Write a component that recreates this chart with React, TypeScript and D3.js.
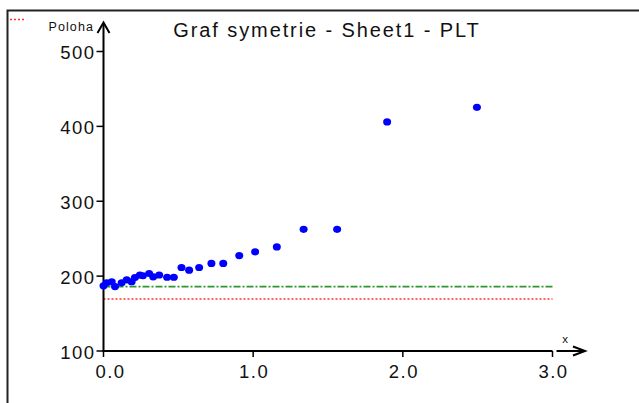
import React from "react";
import * as d3 from "d3";

// Measured samples: x position and Poloha value
const sampleX = [0.0, 0.021, 0.055, 0.077, 0.121, 0.155, 0.188, 0.21, 0.243, 0.263, 0.305, 0.332, 0.372, 0.425, 0.47, 0.521, 0.572, 0.639, 0.721, 0.8, 0.907, 1.013, 1.158, 1.337, 1.561, 1.895, 2.495];
const sampleY = [187, 191, 192.5, 186, 191, 195, 192.5, 198, 201.5, 200.5, 203.5, 199, 201.5, 198.5, 198.5, 211.5, 208, 211.5, 217, 217, 227.5, 232.5, 239, 262.5, 262.5, 406, 425.5];

// Horizontal reference levels
const greenLevel = 186;
const redLevel = 169.5;

const xTicks = [0, 1, 2, 3];
const yTicks = [100, 200, 300, 400, 500];

const title = "Graf symetrie - Sheet1 - PLT";
const yLabel = "Poloha";
const xLabel = "x";

const W = 639;
const H = 403;
const FONT = "'Liberation Sans', Arial, sans-serif";

export default function App() {
  const x = d3.scaleLinear().domain([0, 3]).range([103.5, 552.5]);
  const y = d3.scaleLinear().domain([100, 500]).range([351, 51.5]);
  const x0 = x(0);
  const y0 = y(100);

  return (
    <svg
      width={W}
      height={H}
      style={{ position: "absolute", left: 0, top: 0, background: "#fff" }}
      fontFamily={FONT}
    >
      {/* frame */}
      <path d={`M7.5,${H} V10.5 H${W}`} fill="none" stroke="#222" strokeWidth={2} />
      {/* legend marker */}
      <line x1={10} x2={24} y1={19.5} y2={19.5} stroke="#ff3030" strokeWidth={1.5} strokeDasharray="2,2" />

      <text x={327} y={37} textAnchor="middle" fontSize={20} fill="#111" letterSpacing={1.9}>
        {title}
      </text>

      {/* reference lines */}
      <line x1={x0} x2={x(3)} y1={y(greenLevel)} y2={y(greenLevel)} stroke="#2e962e" strokeWidth={1.6} strokeDasharray="7,2,2,2" />
      <line x1={x0} x2={x(3)} y1={y(redLevel)} y2={y(redLevel)} stroke="#ff3030" strokeWidth={1.6} strokeDasharray="2,2" />

      {/* y axis with arrow */}
      <line x1={x0} x2={x0} y1={y0} y2={23} stroke="#000" strokeWidth={2} />
      <path d={`M${x0 - 6},${33} L${x0},${22.5} L${x0 + 6},${33}`} fill="none" stroke="#000" strokeWidth={2} />
      {yTicks.map((t) => (
        <g key={t}>
          <line x1={x0 - 7} x2={x0} y1={y(t)} y2={y(t)} stroke="#000" strokeWidth={1.5} />
          <text x={x0 - 8} y={y(t) + 7.5} textAnchor="end" fontSize={18.5} fill="#111" letterSpacing={1.5}>
            {t}
          </text>
        </g>
      ))}
      <text x={94} y={31} textAnchor="end" fontSize={12.5} fill="#111" letterSpacing={1.1}>
        {yLabel}
      </text>

      {/* x axis with arrow */}
      <line x1={x0 - 1} x2={x(3)} y1={y0} y2={y0} stroke="#000" strokeWidth={2} />
      <line x1={x(3) + 4} x2={585} y1={y0} y2={y0} stroke="#000" strokeWidth={2} />
      <path d={`M573,${y0 - 4.5} L585,${y0} L573,${y0 + 4.5}`} fill="none" stroke="#000" strokeWidth={2} />
      {xTicks.map((t) => (
        <g key={t}>
          <line x1={x(t)} x2={x(t)} y1={y0} y2={y0 + 6} stroke="#000" strokeWidth={1.5} />
          <text x={x(t) + (t === 0 ? 7 : 1)} y={378} textAnchor="middle" fontSize={18.5} fill="#111" letterSpacing={1.5}>
            {t.toFixed(1)}
          </text>
        </g>
      ))}
      <text x={565} y={343} textAnchor="middle" fontSize={11.5} fill="#111">
        {xLabel}
      </text>

      {/* samples */}
      {sampleX.map((v, i) => (
        <ellipse key={i} cx={x(v)} cy={y(sampleY[i])} rx={4} ry={3.6} fill="#0000ff" />
      ))}
    </svg>
  );
}
